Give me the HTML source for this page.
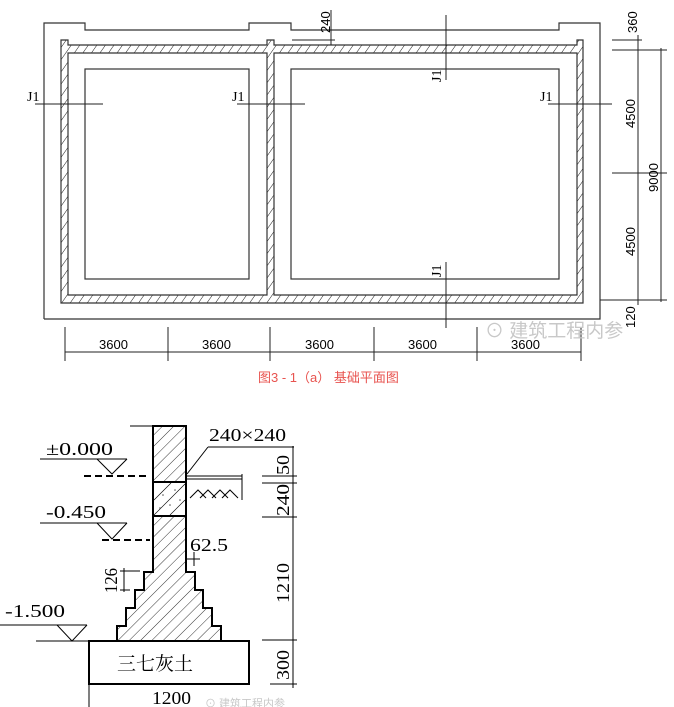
<!DOCTYPE html>
<html><head><meta charset="utf-8"><style>
html,body{margin:0;padding:0;background:#fff;}
svg{display:block;}
text{font-family:"Liberation Serif","Noto Serif CJK SC",serif;fill:#000;}
.s text, text.s{font-family:"Liberation Sans","Noto Sans CJK SC",sans-serif;}
</style></head><body>
<svg width="674" height="707" viewBox="0 0 674 707" xmlns="http://www.w3.org/2000/svg">
<defs>
<pattern id="h1" width="7" height="7" patternUnits="userSpaceOnUse" patternTransform="rotate(35)">
<line x1="0" y1="0" x2="0" y2="7" stroke="#000" stroke-width="0.9"/></pattern>
<pattern id="h2" width="8" height="8" patternUnits="userSpaceOnUse" patternTransform="rotate(45)">
<line x1="0" y1="0" x2="0" y2="8" stroke="#000" stroke-width="0.8"/></pattern>
</defs>
<g fill="none" stroke="#333" stroke-width="1.2">
<polyline points="44,319 44,23 85,23 85,30 249,30 249,23 291,23 291,30 559,30 559,23 600,23 600,319 44,319"/>
<path d="M61,40 H68 V45 H267 V40 H274 V45 H577 V40 H583 V303 H61 Z M68,53 V295 H267 V53 Z M274,53 V295 H577 V53 Z" fill="url(#h1)" fill-rule="evenodd"/>
<rect x="85" y="69" width="164" height="210"/>
<rect x="291" y="69" width="268" height="210"/>
</g>
<g stroke="#222" stroke-width="1">
<line x1="35" y1="104" x2="103" y2="104"/>
<line x1="237" y1="104" x2="305" y2="104"/>
<line x1="548" y1="104" x2="612" y2="104"/>
<line x1="446" y1="15" x2="446" y2="80"/>
<line x1="446" y1="262" x2="446" y2="328"/>
<line x1="65" y1="352" x2="581" y2="352"/>
<line x1="65" y1="327" x2="65" y2="361"/><line x1="168" y1="327" x2="168" y2="361"/><line x1="270" y1="327" x2="270" y2="361"/><line x1="374" y1="327" x2="374" y2="361"/><line x1="477" y1="327" x2="477" y2="361"/><line x1="581" y1="327" x2="581" y2="361"/>
<line x1="638" y1="35" x2="638" y2="305"/>
<line x1="661" y1="48" x2="661" y2="302"/>
<line x1="612" y1="40" x2="642" y2="40"/>
<line x1="612" y1="50" x2="667" y2="50"/>
<line x1="612" y1="173" x2="667" y2="173"/>
<line x1="600" y1="300" x2="667" y2="300"/>
<line x1="292" y1="40" x2="335" y2="40"/>
<line x1="331" y1="10" x2="331" y2="45"/>
</g>
<g font-size="14">
<text x="27" y="101">J1</text><text x="232" y="101">J1</text><text x="540" y="101">J1</text>
<text transform="translate(441,82) rotate(-90)">J1</text>
<text transform="translate(441,277) rotate(-90)">J1</text>
</g>
<g class="s" font-size="13">
<text x="99" y="349">3600</text><text x="202" y="349">3600</text><text x="305" y="349">3600</text><text x="408" y="349">3600</text><text x="511" y="349">3600</text>
<text transform="translate(637,33) rotate(-90)">360</text>
<text transform="translate(635,128) rotate(-90)">4500</text>
<text transform="translate(635,256) rotate(-90)">4500</text>
<text transform="translate(658,192) rotate(-90)">9000</text>
<text transform="translate(635,328) rotate(-90)">120</text>
<text transform="translate(330,33) rotate(-90)">240</text>
</g>
<text class="s" x="485" y="337" font-size="19" style="fill:#c8c8c8">⊙ 建筑工程内参</text>
<text class="s" x="258" y="382" font-size="13" style="fill:#e8534f">图3 - 1（a） 基础平面图</text>

<g stroke="#000" stroke-width="2" fill="url(#h2)">
<polygon points="153,426 186,426 186,572 195,572 195,590 203,590 203,608 212,608 212,626 221,626 221,641 117,641 117,626 126,626 126,608 135,608 135,590 144,590 144,572 153,572"/>
</g>
<g stroke="#000" stroke-width="2" fill="none">
<line x1="153" y1="482" x2="186" y2="482"/>
<line x1="153" y1="516" x2="186" y2="516"/>
<rect x="89" y="641" width="160" height="43" fill="#fff"/>
</g>
<rect x="154" y="483" width="31" height="32" fill="#fff"/>
<g stroke="#000" stroke-width="0.6"><line x1="154" y1="515" x2="185" y2="484"/><line x1="154" y1="500" x2="171" y2="483"/><line x1="170" y1="515" x2="185" y2="500"/></g>
<g fill="#555"><circle cx="163" cy="495" r="0.8"/><circle cx="175" cy="490" r="0.8"/><circle cx="170" cy="505" r="0.8"/><circle cx="160" cy="508" r="0.8"/><circle cx="180" cy="500" r="0.8"/></g>
<g stroke="#000" stroke-width="1" fill="none">
<line x1="130" y1="426" x2="168" y2="426"/>
<line x1="186" y1="476" x2="242" y2="476"/>
<line x1="186" y1="479" x2="242" y2="479"/>
<line x1="242" y1="474" x2="242" y2="500"/>
<path d="M190,498 l8,-8 l8,8 M200,498 l8,-8 l8,8 M212,498 l8,-8 l8,8 M222,498 l8,-8 l8,8"/>
<line x1="208" y1="447" x2="294" y2="447"/>
<line x1="208" y1="447" x2="187" y2="474"/>
<line x1="40" y1="459" x2="127" y2="459"/>
<path d="M97,459 L112,474 L127,459"/>
<line x1="40" y1="523" x2="127" y2="523"/>
<path d="M97,523 L112,539 L127,523"/>
<line x1="0" y1="625" x2="87" y2="625"/>
<path d="M57,625 L72,641 L87,625"/>
<line x1="36" y1="641" x2="89" y2="641"/>
<line x1="89" y1="684" x2="89" y2="707"/>
<line x1="293" y1="446" x2="293" y2="688"/>
<line x1="262" y1="476" x2="297" y2="476"/>
<line x1="262" y1="483" x2="297" y2="483"/>
<line x1="262" y1="517" x2="297" y2="517"/>
<line x1="262" y1="640" x2="297" y2="640"/>
<line x1="270" y1="684" x2="297" y2="684"/>
<line x1="186" y1="559" x2="200" y2="559"/>
<line x1="194" y1="552" x2="194" y2="566"/>
<line x1="124" y1="568" x2="124" y2="592"/>
<line x1="120" y1="571" x2="140" y2="571"/>
<line x1="120" y1="590" x2="130" y2="590"/>
</g>
<g stroke="#000" stroke-width="2" stroke-dasharray="7,4">
<line x1="84" y1="476" x2="150" y2="476"/>
<line x1="102" y1="540" x2="150" y2="540"/>
</g>
<g font-size="18">
<text x="46" y="455" textLength="67" lengthAdjust="spacingAndGlyphs">±0.000</text>
<text x="46" y="518" textLength="60" lengthAdjust="spacingAndGlyphs">-0.450</text>
<text x="5" y="617" textLength="60" lengthAdjust="spacingAndGlyphs">-1.500</text>
<text x="209" y="441" textLength="77" lengthAdjust="spacingAndGlyphs">240×240</text>
<text x="190" y="551" textLength="38" lengthAdjust="spacingAndGlyphs">62.5</text>
<text x="152" y="704" textLength="39" lengthAdjust="spacingAndGlyphs">1200</text>
<text transform="translate(289,475) rotate(-90)" textLength="20" lengthAdjust="spacingAndGlyphs">50</text>
<text transform="translate(289,516) rotate(-90)" textLength="32" lengthAdjust="spacingAndGlyphs">240</text>
<text transform="translate(289,603) rotate(-90)" textLength="40" lengthAdjust="spacingAndGlyphs">1210</text>
<text transform="translate(289,680) rotate(-90)" textLength="30" lengthAdjust="spacingAndGlyphs">300</text>
<text transform="translate(117,593) rotate(-90)" textLength="25" lengthAdjust="spacingAndGlyphs">126</text>
</g>
<text x="117" y="670" font-size="19" style="font-family:'Noto Serif CJK SC',serif">三七灰土</text>
<text class="s" x="205" y="707" font-size="11" style="fill:#c8c8c8">⊙ 建筑工程内参</text>
</svg>
</body></html>
